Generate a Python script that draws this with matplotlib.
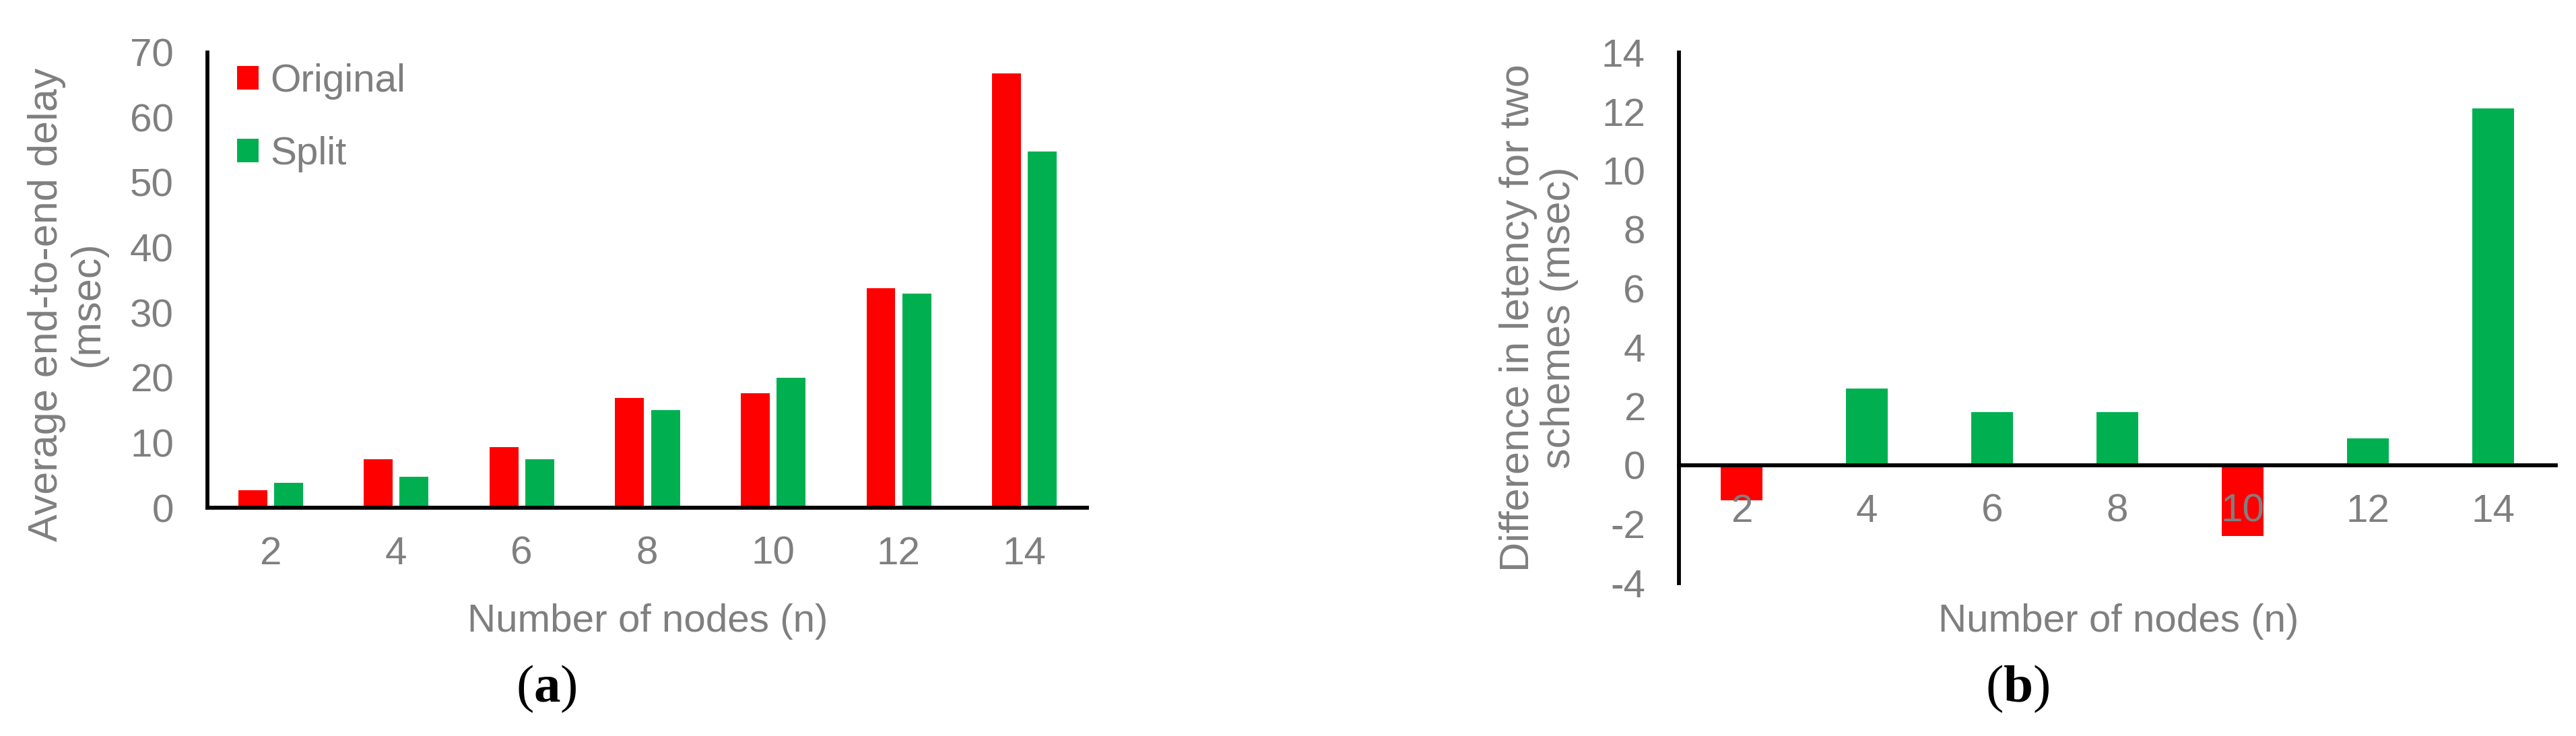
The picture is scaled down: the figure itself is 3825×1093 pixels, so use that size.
import numpy as np
import matplotlib.pyplot as plt

plt.rcParams['font.family'] = ['Liberation Sans', 'DejaVu Sans']
plt.rcParams['axes.unicode_minus'] = False
plt.rcParams['mathtext.fontset'] = 'custom'
plt.rcParams['mathtext.rm'] = 'Liberation Serif'
plt.rcParams['mathtext.bf'] = 'Liberation Serif:bold'

# data
nodes = ['2', '4', '6', '8', '10', '12', '14']
original = [2.7, 7.4, 9.3, 16.9, 17.6, 33.7, 66.7]
split = [3.8, 4.8, 7.5, 15.0, 20.0, 32.9, 54.7]
diff = [-1.2, 2.6, 1.8, 1.8, -2.4, 0.9, 12.1]

RED = '#FF0000'
GREEN = '#00B050'
GREY = '#7F7F7F'
FS = 42
FS_Y = 44

W, H = 3825, 1093
fig = plt.figure(figsize=(W/100, H/100), dpi=100)

def px_axes(l, r, top, bot):
    return fig.add_axes([l/W, 1-bot/H, (r-l)/W, (bot-top)/H])

def style(ax):
    for s in ['top', 'right']:
        ax.spines[s].set_visible(False)
    for s in ['left', 'bottom']:
        ax.spines[s].set_linewidth(4.2)
        ax.spines[s].set_color('black')
    ax.tick_params(axis='both', length=0, labelsize=FS, labelcolor=GREY)
    ax.tick_params(axis='y', pad=36)
    ax.tick_params(axis='x', pad=30)

x = np.arange(len(nodes))

# (a)
ax1 = px_axes(308, 1614, 77.5, 754)
w = 0.23
ax1.bar(x - 0.14, original, w, color=RED, label='Original')
ax1.bar(x + 0.145, split, w, color=GREEN, label='Split')
ax1.set_xlim(-0.5, 6.5)
ax1.set_ylim(0, 70)
ax1.set_yticks(np.arange(0, 71, 10))
ax1.set_xticks(x)
ax1.set_xticklabels(nodes)
style(ax1)
leg = ax1.legend(loc='upper left', bbox_to_anchor=(0.034, 0.975), frameon=False,
                 fontsize=FS, handlelength=0.54, handleheight=0.54, handletextpad=0.3,
                 labelspacing=0.92, borderpad=0, borderaxespad=0)
for t in leg.get_texts():
    t.set_color(GREY)

fig.text(100/W, 1-452/H, 'Average end-to-end delay\n(msec)', rotation=90,
         ha='center', va='center', multialignment='center', fontsize=FS_Y,
         color=GREY, linespacing=1.1)
fig.text(962/W, 1-938/H, 'Number of nodes (n)', ha='center', va='baseline',
         fontsize=FS, color=GREY)
fig.text(811/W, 1-1023/H, r'($\mathbf{a}$)', ha='center', va='center',
         fontsize=57, family='Liberation Serif', color='black')

# (b)
ax2 = px_axes(2493, 3795, 78, 866)
cols = [RED if d < 0 else GREEN for d in diff]
ax2.bar(x, diff, 0.33, color=cols)
ax2.set_xlim(-0.5, 6.5)
ax2.set_ylim(-4, 14)
ax2.set_yticks(np.arange(-4, 15, 2))
ax2.set_xticks(x)
ax2.set_xticklabels(nodes)
style(ax2)
ax2.spines['bottom'].set_position(('data', 0))

fig.text(2285/W, 1-472/H, 'Difference in letency for two\nschemes (msec)', rotation=90,
         ha='center', va='center', multialignment='center', fontsize=FS_Y,
         color=GREY, linespacing=1.1)
fig.text(3146/W, 1-938/H, 'Number of nodes (n)', ha='center', va='baseline',
         fontsize=FS, color=GREY)
fig.text(2996/W, 1-1023/H, r'($\mathbf{b}$)', ha='center', va='center',
         fontsize=57, family='Liberation Serif', color='black')

fig.savefig('out.png', dpi=100)
